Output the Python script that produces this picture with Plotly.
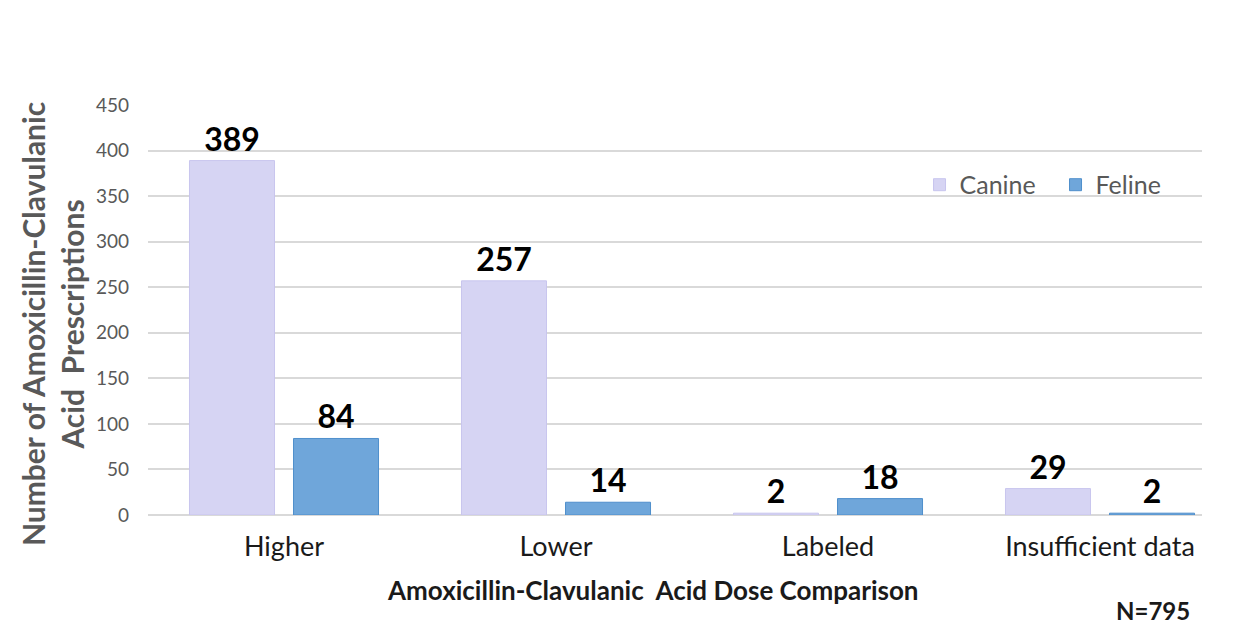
import plotly.graph_objects as go

categories = ["Higher", "Lower", "Labeled", "Insufficient data"]
canine = [389, 257, 2, 29]
feline = [84, 14, 18, 2]
y_ticks = [0, 50, 100, 150, 200, 250, 300, 350, 400, 450]

FONT = "Lato"

fig = go.Figure()
fig.add_trace(go.Bar(
    name="Canine", x=categories, y=canine,
    marker=dict(color="#d6d4f3", line=dict(color="#c8c5ee", width=1)),
    text=canine, textposition="outside",
    textfont=dict(family=FONT, size=32, color="black", weight="bold"),
    cliponaxis=False,
))
fig.add_trace(go.Bar(
    name="Feline", x=categories, y=feline,
    marker=dict(color="#6fa6da", line=dict(color="#4f8fcc", width=1)),
    text=feline, textposition="outside",
    textfont=dict(family=FONT, size=32, color="black", weight="bold"),
    cliponaxis=False,
))

fig.update_layout(
    width=1233, height=638,
    margin=dict(l=140, r=39, t=97, b=131),
    paper_bgcolor="white", plot_bgcolor="white",
    barmode="group", bargap=0.235, bargroupgap=0.183,
    font=dict(family=FONT, color="#595959"),
    legend=dict(orientation="h", x=0.732, y=0.805, xanchor="left", yanchor="middle",
                font=dict(family=FONT, size=25, color="#595959"),
                bgcolor="rgba(0,0,0,0)", itemwidth=30, traceorder="normal",
                entrywidth=91),
    uniformtext=dict(minsize=8, mode=False),
)
fig.update_yaxes(
    range=[0, 450], tickvals=y_ticks, showgrid=True, gridcolor="#d9d9d9", gridwidth=1.5,
    zeroline=True, zerolinecolor="#d9d9d9", zerolinewidth=1.5,
    tickfont=dict(family=FONT, size=19, color="#595959"),
    ticks="", ticklabelstandoff=18,
    showline=False,
)
fig.update_xaxes(
    range=[-0.5, 3.375],
    tickfont=dict(family=FONT, size=27, color="#1a1a1a"),
    ticks="", ticklabelstandoff=13, showline=False,
)
fig.add_annotation(
    text="<b>Number of Amoxicillin-Clavulanic<br>Acid  Prescriptions</b>",
    xref="paper", yref="paper", x=-0.090, y=0.466, xanchor="center", yanchor="middle",
    textangle=-90, showarrow=False,
    font=dict(family=FONT, size=30, color="#595959"), align="center",
)
fig.add_annotation(
    text="<b>Amoxicillin-Clavulanic  Acid Dose Comparison</b>",
    xref="paper", yref="paper", x=0.479, y=-0.183, xanchor="center", yanchor="middle",
    showarrow=False, font=dict(family=FONT, size=26, color="#1a1a1a"),
)
fig.add_annotation(
    text="<b>N=795</b>",
    xref="paper", yref="paper", x=0.9535, y=-0.232, xanchor="center", yanchor="middle",
    showarrow=False, font=dict(family=FONT, size=24, color="#1a1a1a"),
)

fig.write_html("out.html")
